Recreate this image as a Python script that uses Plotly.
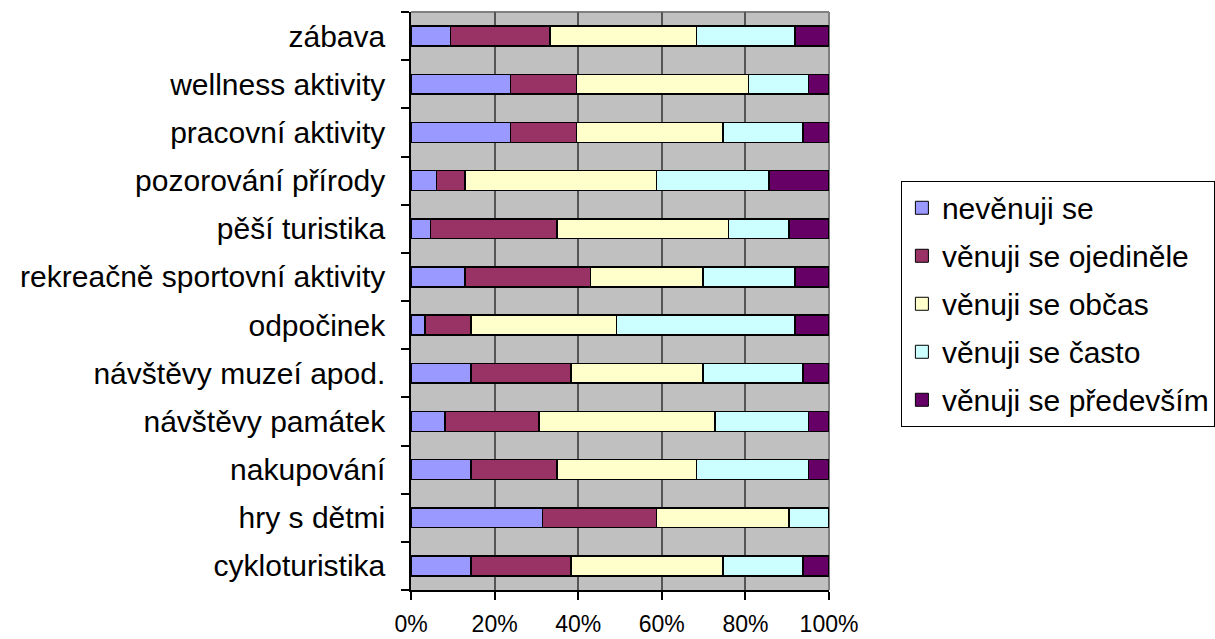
import plotly.graph_objects as go

# Activities, listed bottom-to-top as they appear on the chart
activities = [
    "cykloturistika",
    "hry s dětmi",
    "nakupování",
    "návštěvy památek",
    "návštěvy muzeí apod.",
    "odpočinek",
    "rekreačně sportovní aktivity",
    "pěší turistika",
    "pozorování přírody",
    "pracovní aktivity",
    "wellness aktivity",
    "zábava",
]

# Share of respondents (%) per answer, same order as activities
nevenuji_se = [14.3, 31.5, 14.3, 8.1, 14.3, 3.3, 12.9, 4.7, 6.1, 23.8, 23.8, 9.5]
ojedinele = [24.0, 27.2, 20.6, 22.5, 24.0, 11.0, 30.1, 30.2, 6.8, 15.8, 15.8, 23.8]
obcas = [36.3, 31.7, 33.4, 42.1, 31.5, 34.9, 26.8, 41.1, 45.8, 35.0, 41.2, 35.0]
casto = [19.2, 9.6, 26.8, 22.4, 24.0, 42.7, 22.1, 14.4, 26.9, 19.2, 14.3, 23.6]
predevsim = [6.2, 0.0, 4.9, 4.9, 6.2, 8.1, 8.1, 9.6, 14.4, 6.2, 4.9, 8.1]

series_names = [
    "nevěnuji se",
    "věnuji se ojediněle",
    "věnuji se občas",
    "věnuji se často",
    "věnuji se především",
]
series_values = [nevenuji_se, ojedinele, obcas, casto, predevsim]
series_colors = ["#9999FF", "#993366", "#FFFFCC", "#CCFFFF", "#660066"]

x_ticks = [0, 20, 40, 60, 80, 100]
x_tick_labels = ["0%", "20%", "40%", "60%", "80%", "100%"]

FONT = "Liberation Sans, Arial, sans-serif"

fig = go.Figure()
for i, (name, vals, col) in enumerate(zip(series_names, series_values, series_colors)):
    fig.add_trace(
        go.Bar(
            y=activities,
            x=vals,
            name=name,
            orientation="h",
            marker=dict(color=col, line=dict(color="#000000", width=1.5)),
            showlegend=False,
        )
    )
    # square swatch for the legend entry
    fig.add_trace(
        go.Scatter(
            x=[None],
            y=[None],
            mode="markers",
            name=name,
            marker=dict(symbol="square", size=13, color=col,
                        line=dict(color="#000000", width=1)),
            legendgroup=f"g{i}",
            showlegend=True,
        )
    )

fig.update_layout(
    width=1215,
    height=639,
    barmode="stack",
    barnorm="percent",
    bargap=0.585,
    paper_bgcolor="#FFFFFF",
    plot_bgcolor="#C0C0C0",
    margin=dict(l=411, r=386, t=12, b=49, autoexpand=False),
    font=dict(family=FONT, color="#000000"),
    legend=dict(
        x=1.172,
        y=0.708,
        xanchor="left",
        yanchor="top",
        traceorder="grouped",
        tracegroupgap=6,
        font=dict(size=30, family=FONT),
        bgcolor="#FFFFFF",
        bordercolor="#000000",
        borderwidth=1,
    ),
    xaxis=dict(
        range=[0, 100],
        tickmode="array",
        tickvals=x_ticks,
        ticktext=x_tick_labels,
        showgrid=True,
        gridcolor="#555555",
        gridwidth=1.5,
        zeroline=False,
        showline=True,
        linecolor="#000000",
        linewidth=1.5,
        ticks="outside",
        ticklen=8,
        tickwidth=1.5,
        tickcolor="#000000",
        tickfont=dict(size=23),
        ticklabelstandoff=5,
        fixedrange=True,
    ),
    yaxis=dict(
        type="category",
        categoryorder="array",
        categoryarray=activities,
        tickson="boundaries",
        ticks="outside",
        ticklen=8,
        tickwidth=1.5,
        tickcolor="#000000",
        showgrid=False,
        showline=True,
        linecolor="#000000",
        linewidth=1.5,
        tickfont=dict(size=30),
        ticklabelstandoff=18,
        fixedrange=True,
    ),
    shapes=[
        # grey frame along the top and right of the plot area
        dict(type="line", xref="x domain", yref="y domain", x0=0, x1=1, y0=1, y1=1,
             line=dict(color="#808080", width=2), layer="below"),
        dict(type="line", xref="x domain", yref="y domain", x0=1, x1=1, y0=0, y1=1,
             line=dict(color="#808080", width=2), layer="below"),
    ],
)

fig.write_html("out.html")
